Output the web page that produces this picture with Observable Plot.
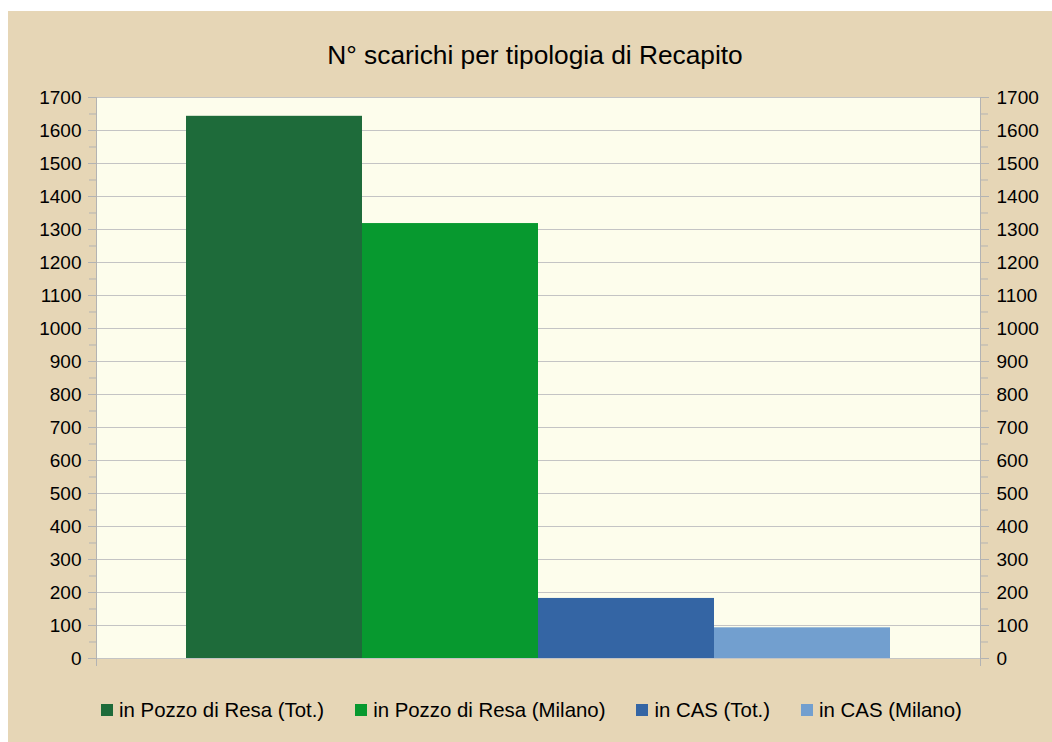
<!DOCTYPE html>
<html>
<head>
<meta charset="utf-8">
<script src="https://cdn.jsdelivr.net/npm/d3@7"></script>
<script src="https://cdn.jsdelivr.net/npm/@observablehq/plot@0.6"></script>
<style>
  html, body { margin: 0; padding: 0; background: #ffffff; }
  body { width: 1052px; height: 742px; position: relative; overflow: hidden; font-family: "Liberation Sans", Arial, sans-serif; color: #000; }
  #bg { position: absolute; left: 8px; top: 11px; width: 1044px; height: 731px; background: #e6d6b6; }
  #title { position: absolute; left: 0; width: 1070px; top: 42px; text-align: center; font-size: 26.3px; line-height: 26px; white-space: nowrap; }
  #chart { position: absolute; left: 0; top: 80px; }
  #legend { position: absolute; left: 101px; top: 700px; display: flex; gap: 31px; font-size: 20.4px; line-height: 20px; white-space: nowrap; }
  .item { display: flex; align-items: center; }
  .sw { width: 12px; height: 12px; margin-right: 6px; box-sizing: border-box; }
</style>
</head>
<body>
<div id="bg"></div>
<div id="title">N° scarichi per tipologia di Recapito</div>
<div id="chart"></div>
<div id="legend"></div>
<script>
const series = ["in Pozzo di Resa (Tot.)", "in Pozzo di Resa (Milano)", "in CAS (Tot.)", "in CAS (Milano)"];
const values = [1643, 1318, 182, 93];
const colors = ["#1e6b3a", "#07992f", "#3465a4", "#729fcf"];
const majorTicks = d3.range(0, 1701, 100);
const minorTicks = d3.range(50, 1700, 100);

const data = series.map((s, i) => ({series: s, value: values[i]}));
const axisColor = "#b3b3b3";
const fmt = d => String(d);

const chart = Plot.plot({
  width: 1052,
  height: 600,
  marginLeft: 96,
  marginRight: 72,
  marginTop: 17,
  marginBottom: 22,
  style: {background: "transparent", color: "#000", fontFamily: "'Liberation Sans', Arial, sans-serif"},
  x: {domain: series, paddingInner: 0, paddingOuter: 0.5, axis: null},
  y: {domain: [0, 1700], axis: null},
  color: {domain: series, range: colors},
  marks: [
    Plot.frame({fill: "#fdfdec", stroke: null}),
    Plot.gridY(majorTicks, {stroke: "#c4c4c4", strokeOpacity: 1}),
    Plot.barY(data, {x: "series", y: "value", fill: "series"}),
    Plot.frame({anchor: "left", stroke: axisColor, insetBottom: -7}),
    Plot.frame({anchor: "right", stroke: axisColor, insetBottom: -7}),
    Plot.axisY({anchor: "left", ticks: majorTicks, tickFormat: fmt, tickSize: 8, tickPadding: 7, fontSize: 19, label: null, stroke: axisColor}),
    Plot.axisY({anchor: "left", ticks: minorTicks, tickSize: 7, tickFormat: () => "", label: null, stroke: axisColor}),
    Plot.axisY({anchor: "right", ticks: majorTicks, tickFormat: fmt, tickSize: 8, tickPadding: 8, fontSize: 19, label: null, stroke: axisColor}),
    Plot.axisY({anchor: "right", ticks: minorTicks, tickSize: 7, tickFormat: () => "", label: null, stroke: axisColor})
  ]
});
document.getElementById("chart").appendChild(chart);

const legend = document.getElementById("legend");
series.forEach((s, i) => {
  const item = document.createElement("div");
  item.className = "item";
  const sw = document.createElement("span");
  sw.className = "sw";
  sw.style.background = colors[i];
  const t = document.createElement("span");
  t.textContent = s;
  item.appendChild(sw);
  item.appendChild(t);
  legend.appendChild(item);
});
</script>
</body>
</html>
